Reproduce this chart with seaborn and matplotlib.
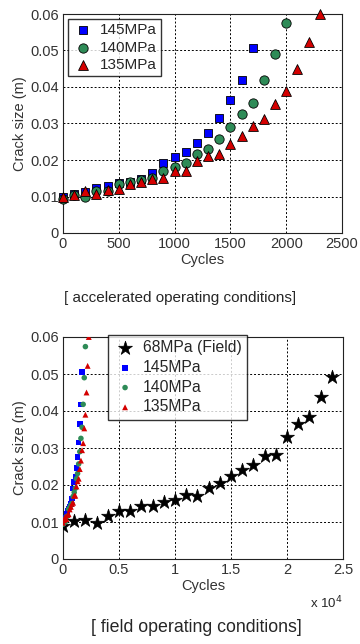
import numpy as np
import pandas as pd
import seaborn as sns
import matplotlib
matplotlib.use('Agg')
import matplotlib.pyplot as plt

# accelerated test data (cycles, crack size in m)
cycles_145 = list(range(0, 1800, 100))
crack_145 = [0.0098, 0.0108, 0.0112, 0.0123, 0.0130, 0.0137, 0.0141, 0.0149, 0.0164,
             0.0191, 0.0208, 0.0221, 0.0246, 0.0275, 0.0315, 0.0365, 0.0418, 0.0506]

cycles_140 = list(range(0, 2100, 100))
crack_140 = [0.0094, 0.0105, 0.0100, 0.0114, 0.0116, 0.0135, 0.0139, 0.0146, 0.0150,
             0.0169, 0.0180, 0.0191, 0.0217, 0.0231, 0.0257, 0.0290, 0.0326, 0.0356,
             0.0418, 0.0490, 0.0574]

cycles_135 = list(range(0, 2400, 100))
crack_135 = [0.0098, 0.0105, 0.0114, 0.0108, 0.0119, 0.0121, 0.0134, 0.0141, 0.0149,
             0.0152, 0.0171, 0.0171, 0.0196, 0.0210, 0.0217, 0.0243, 0.0266, 0.0294,
             0.0313, 0.0353, 0.0390, 0.0450, 0.0522, 0.0600]

# field data
cycles_field = list(range(0, 25000, 1000))
crack_field = [0.0090, 0.0102, 0.0106, 0.0097, 0.0115, 0.0129, 0.0129, 0.0142, 0.0144,
               0.0153, 0.0160, 0.0174, 0.0169, 0.0192, 0.0205, 0.0223, 0.0241, 0.0253,
               0.0279, 0.0282, 0.0330, 0.0365, 0.0384, 0.0438, 0.0492]

blue = '#0000ff'
green = '#2e8b57'
red = '#d40000'

sns.set_style('white')
plt.rcParams['font.family'] = ['Liberation Sans', 'DejaVu Sans']
plt.rcParams['font.size'] = 10.5

fig = plt.figure(figsize=(3.6, 6.44), dpi=100)
W, H = 360, 644
ax1 = fig.add_axes([63 / W, 1 - 233 / H, 279 / W, 219 / H])
ax2 = fig.add_axes([63 / W, 1 - 559 / H, 280 / W, 222 / H])

#top chart - accelerated
sns.scatterplot(x=cycles_145, y=crack_145, marker='s', color=blue, edgecolor='k',
                linewidth=0.6, s=40, label='145MPa', ax=ax1, clip_on=False, zorder=3)
sns.scatterplot(x=cycles_140, y=crack_140, marker='o', color=green, edgecolor='k',
                linewidth=0.6, s=45, label='140MPa', ax=ax1, clip_on=False, zorder=3)
sns.scatterplot(x=cycles_135, y=crack_135, marker='^', color=red, edgecolor='k',
                linewidth=0.6, s=50, label='135MPa', ax=ax1, clip_on=False, zorder=3)
ax1.set_xlim(0, 2500)
ax1.set_ylim(0, 0.06)
ax1.set_xticks(range(0, 2501, 500))
ax1.set_yticks(np.arange(0, 0.061, 0.01))
ax1.set_yticklabels(['0', '0.01', '0.02', '0.03', '0.04', '0.05', '0.06'])
ax1.set_xlabel('Cycles', labelpad=1)
ax1.set_ylabel('Crack size (m)', labelpad=2)
ax1.legend(loc='upper left', bbox_to_anchor=(0.0, 1.0), frameon=True, fancybox=False,
           edgecolor='k', borderpad=0.3, handletextpad=0.4, borderaxespad=0.3,
           labelspacing=0.22, fontsize=11, markerscale=1.0, handlelength=1.4)

#bottom chart - field
sns.scatterplot(x=cycles_field, y=crack_field, marker='*', color='k', edgecolor='k',
                linewidth=0.5, s=110, label='68MPa (Field)', ax=ax2, zorder=3)
sns.scatterplot(x=cycles_145, y=crack_145, marker='s', color=blue, edgecolor='none',
                s=16, label='145MPa', ax=ax2, zorder=3)
sns.scatterplot(x=cycles_140, y=crack_140, marker='o', color=green, edgecolor='none',
                s=16, label='140MPa', ax=ax2, zorder=3)
sns.scatterplot(x=cycles_135, y=crack_135, marker='^', color=red, edgecolor='none',
                s=18, label='135MPa', ax=ax2, zorder=3)
ax2.set_xlim(0, 25000)
ax2.set_ylim(0, 0.06)
ax2.set_xticks(range(0, 25001, 5000))
ax2.set_xticklabels(['0', '0.5', '1', '1.5', '2', '2.5'])
ax2.set_yticks(np.arange(0, 0.061, 0.01))
ax2.set_yticklabels(['0', '0.01', '0.02', '0.03', '0.04', '0.05', '0.06'])
ax2.set_xlabel('Cycles', labelpad=1)
ax2.set_ylabel('Crack size (m)', labelpad=2)
ax2.text(1.0, -0.2, 'x 10$^4$', transform=ax2.transAxes, ha='right', va='center', fontsize=9.5)
ax2.legend(loc='upper left', bbox_to_anchor=(0.16, 1.01), frameon=True, fancybox=False,
           edgecolor='k', borderpad=0.35, handletextpad=0.4, borderaxespad=0.0,
           labelspacing=0.3, fontsize=11.3, markerscale=1.0, handlelength=1.5)

for ax in (ax1, ax2):
    ax.grid(True, color='k', linestyle=(0, (2, 2)), linewidth=0.7)
    ax.set_axisbelow(True)
    ax.tick_params(direction='in', length=3, labelsize=10.5, pad=3, colors='#333333')
    for sp in ax.spines.values():
        sp.set_color('#222222')
        sp.set_linewidth(0.8)
    ax.xaxis.label.set_color('#333333')
    ax.yaxis.label.set_color('#333333')

fig.text(0.5, 1 - 298 / H, '[ accelerated operating conditions]', ha='center', va='center', fontsize=11)
fig.text(0.545, 1 - 628 / H, '[ field operating conditions]', ha='center', va='center', fontsize=12.8)

fig.savefig('out.png', dpi=100)
